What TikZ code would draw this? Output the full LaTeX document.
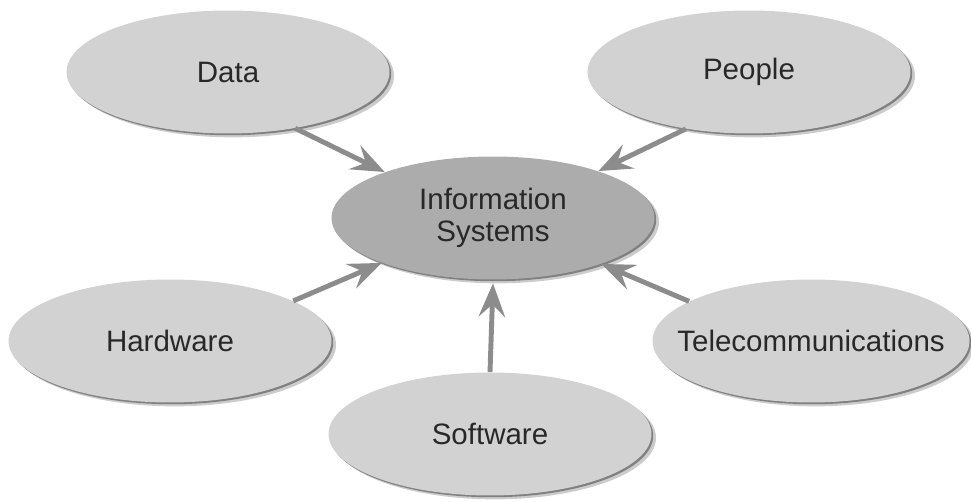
\documentclass[tikz,border=0pt]{standalone}
\usepackage{fontspec}
\setmainfont{Liberation Sans}
\usetikzlibrary{arrows.meta,shapes,shadows}

\definecolor{partfill}{RGB}{210,210,210}
\definecolor{corefill}{RGB}{172,172,172}
\definecolor{feedgray}{RGB}{140,140,140}
\definecolor{labelgray}{RGB}{40,40,40}

\begin{document}
\begin{tikzpicture}[x=0.02cm,y=-0.02cm]
  \tikzset{part/.style={ellipse,fill=partfill,text=labelgray,inner sep=0pt,
      minimum width=6.46cm,minimum height=2.46cm,align=center,
      font=\fontsize{16.8}{18.6}\selectfont,
      drop shadow={shadow xshift=2.6pt,shadow yshift=-2.2pt,fill=black!20,opacity=1},
      drop shadow={shadow xshift=1pt,shadow yshift=-1pt,fill=black!50,opacity=1}},
    feeds/.style={draw=feedgray,line width=2.8pt,
      -{Stealth[length=19pt,width=15pt,inset=7pt]}}}
  \useasboundingbox (0,0) rectangle (971,502);
  \node[part,fill=corefill] (infosys) at (493,218) {Information\\Systems};
  \node[part] (data) at (228,72) {Data};
  \node[part] (people) at (749,72) {People};
  \node[part] (hardware) at (170,341) {Hardware};
  \node[part,minimum width=6.34cm,inner xsep=-0.7cm] (telecom) at (811,341) {Telecommunications};
  \node[part] (software) at (490,434) {Software};
  % everything points at the centre
  \draw[feeds] (data.-40) -- (infosys.157);
  \draw[feeds] (people.222) -- (infosys.24);
  \draw[feeds] (hardware.18) -- (infosys.202);
  \draw[feeds] (telecom.162) -- (infosys.337);
  \draw[feeds] (software.north) -- ([yshift=-2pt]infosys.south);
\end{tikzpicture}
\end{document}
